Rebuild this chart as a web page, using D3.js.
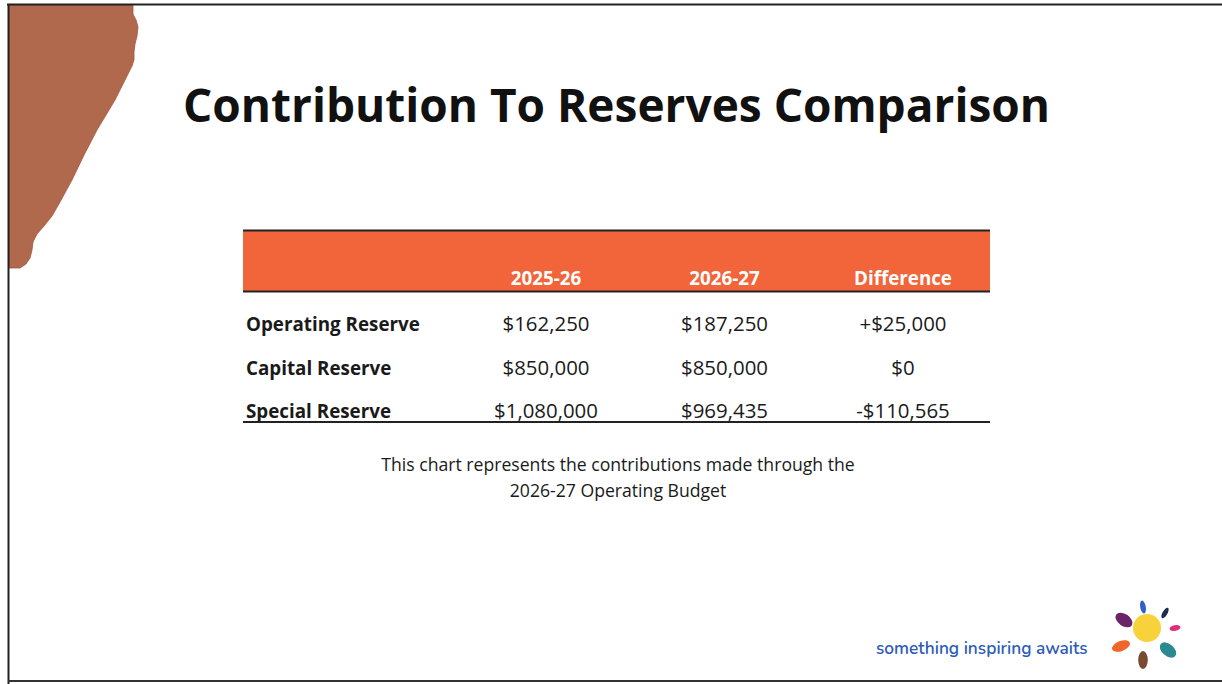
<!DOCTYPE html>
<html>
<head>
<meta charset="utf-8">
<script src="https://cdn.jsdelivr.net/npm/d3@7/dist/d3.min.js"></script>
<style>
html,body{margin:0;padding:0;background:#fff;}
svg{display:block;}
</style>
</head>
<body>
<svg id="chart" width="1222" height="684"></svg>
<script>
// ---- data ----
const title = "Contribution To Reserves Comparison";
const columns = ["2025-26", "2026-27", "Difference"];
const categories = ["Operating Reserve", "Capital Reserve", "Special Reserve"];
const values2025 = ["$162,250", "$850,000", "$1,080,000"];
const values2026 = ["$187,250", "$850,000", "$969,435"];
const differences = ["+$25,000", "$0", "-$110,565"];
const captionLines = ["This chart represents the contributions made through the", "2026-27 Operating Budget"];
const tagline = "something inspiring awaits";

const svg = d3.select("#chart");
const W = 1222, H = 684;
const FONT = "'Open Sans', 'Noto Sans', sans-serif";

function fit(sel, targetW, startSize) {
  sel.attr("font-size", startSize);
  const w = sel.node().getComputedTextLength();
  const s = startSize * targetW / w;
  sel.attr("font-size", s);
  return s;
}

svg.append("rect").attr("x", 0).attr("y", 0).attr("width", W).attr("height", H).attr("fill", "#fff");

// brown decoration top-left
const deco = [[9,5],[133,5],[133,14],[136,20],[138,27],[137,36],[135,44],[134,52],[134,60],[132,66],[115,100],[97,130],[84,155],[72,180],[60,202],[52,216],[44,226],[37,234],[33,242],[32,250],[30,258],[26,264],[20,268],[13,268],[9,268]];
svg.append("path")
  .attr("d", d3.line().curve(d3.curveLinear)(deco) + "Z")
  .attr("fill", "#b0694d")
  .attr("stroke", "#a5533b").attr("stroke-width", 0.8);

svg.append("line").attr("x1", 7).attr("x2", W).attr("y1", 4.5).attr("y2", 4.5).attr("stroke", "#222").attr("stroke-width", 2);
svg.append("line").attr("x1", 8.5).attr("x2", 8.5).attr("y1", 4).attr("y2", H).attr("stroke", "#222").attr("stroke-width", 2);
svg.append("line").attr("x1", 8).attr("x2", W).attr("y1", 681).attr("y2", 681).attr("stroke", "#333").attr("stroke-width", 2);

// title
const t = svg.append("text").attr("x", 183).attr("y", 122)
  .attr("font-family", FONT).attr("font-weight", 700).attr("fill", "#111").text(title);
fit(t, 867, 50);

// table scales
const tableX0 = 243, tableX1 = 990;
const xCol = d3.scalePoint().domain(columns).range([546, 903]);
const yRow = d3.scalePoint().domain(categories).range([331, 418]);

// header band
svg.append("rect").attr("x", tableX0).attr("y", 231).attr("width", tableX1 - tableX0).attr("height", 60).attr("fill", "#f2643a");
svg.append("line").attr("x1", tableX0).attr("x2", tableX1).attr("y1", 230.5).attr("y2", 230.5).attr("stroke", "#222").attr("stroke-width", 2);
svg.append("line").attr("x1", tableX0).attr("x2", tableX1).attr("y1", 291.5).attr("y2", 291.5).attr("stroke", "#222").attr("stroke-width", 2);

const hdr = svg.append("g").selectAll("text").data(columns).join("text")
  .attr("x", d => xCol(d)).attr("y", 285).attr("text-anchor", "middle")
  .attr("font-family", FONT).attr("font-weight", 700).attr("fill", "#fff").text(d => d);
const hs = fit(d3.select(hdr.nodes()[2]), 98, 18);
hdr.attr("font-size", hs);

// row labels
const lab = svg.append("g").selectAll("text").data(categories).join("text")
  .attr("x", 246).attr("y", d => yRow(d))
  .attr("font-family", FONT).attr("font-weight", 700).attr("fill", "#1a1a1a").text(d => d);
const ls = fit(d3.select(lab.nodes()[0]), 174, 18);
lab.attr("font-size", ls);

// values
const cells = [];
categories.forEach((c, i) => {
  cells.push({col: columns[0], row: c, v: values2025[i]});
  cells.push({col: columns[1], row: c, v: values2026[i]});
  cells.push({col: columns[2], row: c, v: differences[i]});
});
const vals = svg.append("g").selectAll("text").data(cells).join("text")
  .attr("x", d => xCol(d.col)).attr("y", d => yRow(d.row)).attr("text-anchor", "middle")
  .attr("font-family", FONT).attr("font-weight", 400).attr("fill", "#1a1a1a").text(d => d.v);
const vs = fit(d3.select(vals.nodes()[0]), 87, 19);
vals.attr("font-size", vs);

svg.append("line").attr("x1", tableX0).attr("x2", tableX1).attr("y1", 422).attr("y2", 422).attr("stroke", "#222").attr("stroke-width", 2);

// caption
const cap = svg.append("g").selectAll("text").data(captionLines).join("text")
  .attr("x", 618).attr("y", (d, i) => 471 + i * 26).attr("text-anchor", "middle")
  .attr("font-family", FONT).attr("fill", "#1a1a1a").text(d => d);
const cs = fit(d3.select(cap.nodes()[0]), 474, 16);
cap.attr("font-size", cs);

// logo
const tg = svg.append("text").attr("x", 876).attr("y", 654)
  .attr("font-family", "'Nunito', 'Lato', 'Noto Sans', sans-serif").attr("font-weight", 600).attr("fill", "#2d5bb8").text(tagline);
fit(tg, 212, 16);

const logo = svg.append("g");
const petals = [
  {cx: 1143, cy: 607, rx: 2.8, ry: 6.5, rot: -10, c: "#2f62c8"},
  {cx: 1165, cy: 613, rx: 2.4, ry: 6, rot: 30, c: "#1d2b4a"},
  {cx: 1124, cy: 620, rx: 6, ry: 9.5, rot: -55, c: "#6a2569"},
  {cx: 1175, cy: 628, rx: 2.8, ry: 5.5, rot: 80, c: "#e0307c"},
  {cx: 1121, cy: 646, rx: 5, ry: 9.5, rot: 68, c: "#f0662a"},
  {cx: 1168, cy: 650, rx: 6, ry: 9.5, rot: -50, c: "#2a8a8f"},
  {cx: 1143, cy: 660, rx: 4.8, ry: 9, rot: 0, c: "#7a4a32"}
];
logo.selectAll("ellipse").data(petals).join("ellipse")
  .attr("cx", 0).attr("cy", 0).attr("rx", d => d.rx).attr("ry", d => d.ry)
  .attr("transform", d => `translate(${d.cx},${d.cy}) rotate(${d.rot})`)
  .attr("fill", d => d.c);
logo.append("circle").attr("cx", 1147).attr("cy", 628).attr("r", 14).attr("fill", "#f8d23a");
</script>
</body>
</html>
